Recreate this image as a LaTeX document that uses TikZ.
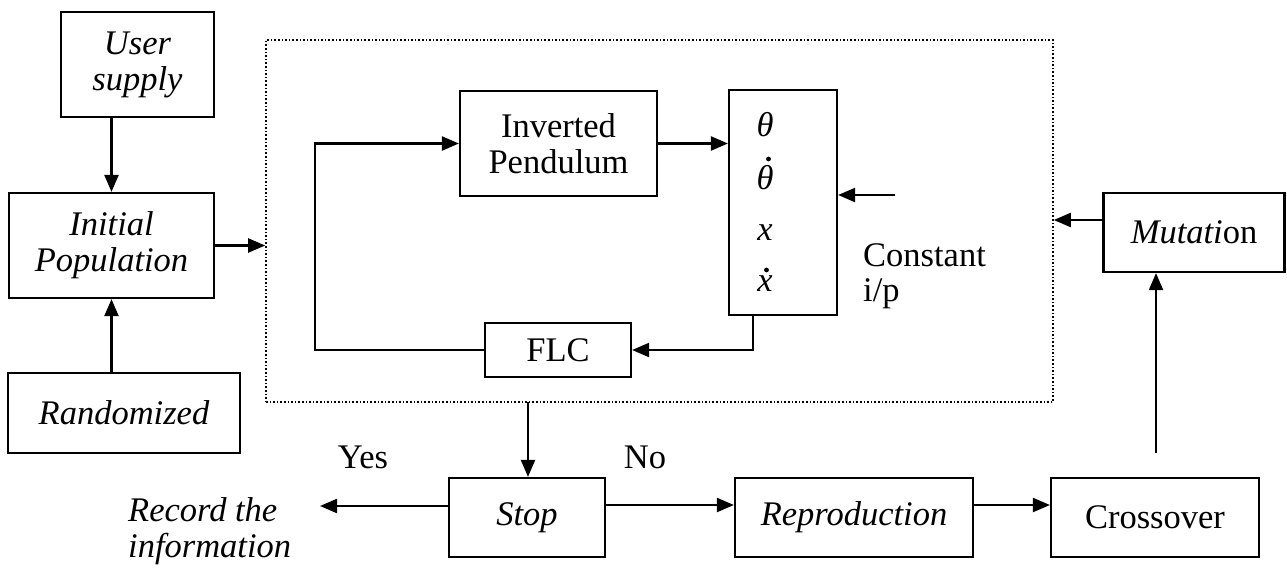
\documentclass[tikz,border=0pt]{standalone}
\usepackage{fontspec}
\setmainfont{Liberation Serif}
\usetikzlibrary{arrows.meta,calc}
\tikzset{
  blk/.style={draw, line width=2.2pt, inner sep=0pt, align=center},
  arr/.style={line width=2.2pt, -{Triangle[length=17pt,width=14pt]}},
  lbl/.style={inner sep=0pt, align=left},
  dotacc/.style={fill, radius=2.4pt},
}
\begin{document}
\begin{tikzpicture}[x=1pt,y=-1pt,font=\fontsize{34.5}{39}\selectfont]
\useasboundingbox (0,0) rectangle (1287,568);
% left column
\node[blk, minimum width=153pt, minimum height=105pt] (user) at (137.5,64.5) {\itshape User\\[-3pt]\itshape supply};
\node[blk, minimum width=205pt, minimum height=105pt] (init) at (111.5,245.5) {\itshape Initial\\[-3pt]\itshape Population};
\node[blk, minimum width=232pt, minimum height=80pt] (rand) at (124,413) {\itshape Randomized};
% system box
\node[draw, dotted, line width=1.6pt, minimum width=787pt, minimum height=362pt, inner sep=0pt] (sys) at (659.5,221) {};
\node[blk, minimum width=197pt, minimum height=105pt] (ip) at (558.5,143.5) {Inverted\\[-3pt]Pendulum};
\node[blk, minimum width=108pt, minimum height=225pt] (state) at (783,202.5) {};
\node[lbl, anchor=base] (s1) at (765,136) {\itshape θ};
\node[lbl, anchor=base] (s2) at (765,189) {\itshape θ};
\node[lbl, anchor=base] (s3) at (765,240) {\itshape x};
\node[lbl, anchor=base] (s4) at (765,291) {\itshape x};
\fill[dotacc] (768.5,159) circle;
\fill[dotacc] (766.5,270) circle;
\node[blk, minimum width=146pt, minimum height=54pt] (flc) at (558,350) {FLC};
\node[lbl, anchor=west] (const) at (863,276) {Constant\\[-4pt]i/p};
% right column
\node[blk, minimum width=181pt, minimum height=79pt] (mut) at (1194,232.5) {\itshape Mutati\upshape on};
% bottom row
\node[blk, minimum width=156pt, minimum height=79pt] (stop) at (527,517.5) {\itshape Stop};
\node[blk, minimum width=238pt, minimum height=79pt] (repro) at (854,517.5) {\itshape Reproduction};
\node[blk, minimum width=208pt, minimum height=79pt] (cross) at (1155,517.5) {Crossover};
\node[lbl, anchor=west] (rec) at (128,531) {\itshape Record the\\[-3pt]\itshape information};
\node[lbl] (yes) at (363,457) {Yes};
\node[lbl] (no) at (645,457) {No};
% coordinates
\coordinate (m1) at (1103,220);
\coordinate (c1) at (1156,453);
\coordinate (st1) at (753,315);
\coordinate (fb) at (315,350);
\coordinate (ci) at (895,195);
\coordinate (ra) at (320,506);
\coordinate (rb) at (605,505);
\coordinate (x1) at (528,402);
% connectors
\draw[arr] (user.south -| init.north) -- (init.north);
\draw[arr] (rand.north -| init.south) -- (init.south);
\draw[arr] (init.east) -- (init.east -| sys.west);
\draw[arr] (mut.west |- m1) -- (sys.east |- m1);
\draw[arr] (c1) -- (c1 |- mut.south);
\draw[arr] (x1) -- (x1 |- stop.north);
\draw[arr] (stop.west |- ra) -- (ra);
\draw[arr] (rb) -- (rb -| repro.west);
\draw[arr] (repro.east |- rb) -- (cross.west |- rb);
\draw[arr] (ip.east) -- (ip.east -| state.west);
\draw[arr] (st1) |- (flc.east);
\draw[arr] (flc.west) -- (fb) |- (ip.west);
\draw[arr] (ci) -- (ci -| state.east);
\end{tikzpicture}
\end{document}
